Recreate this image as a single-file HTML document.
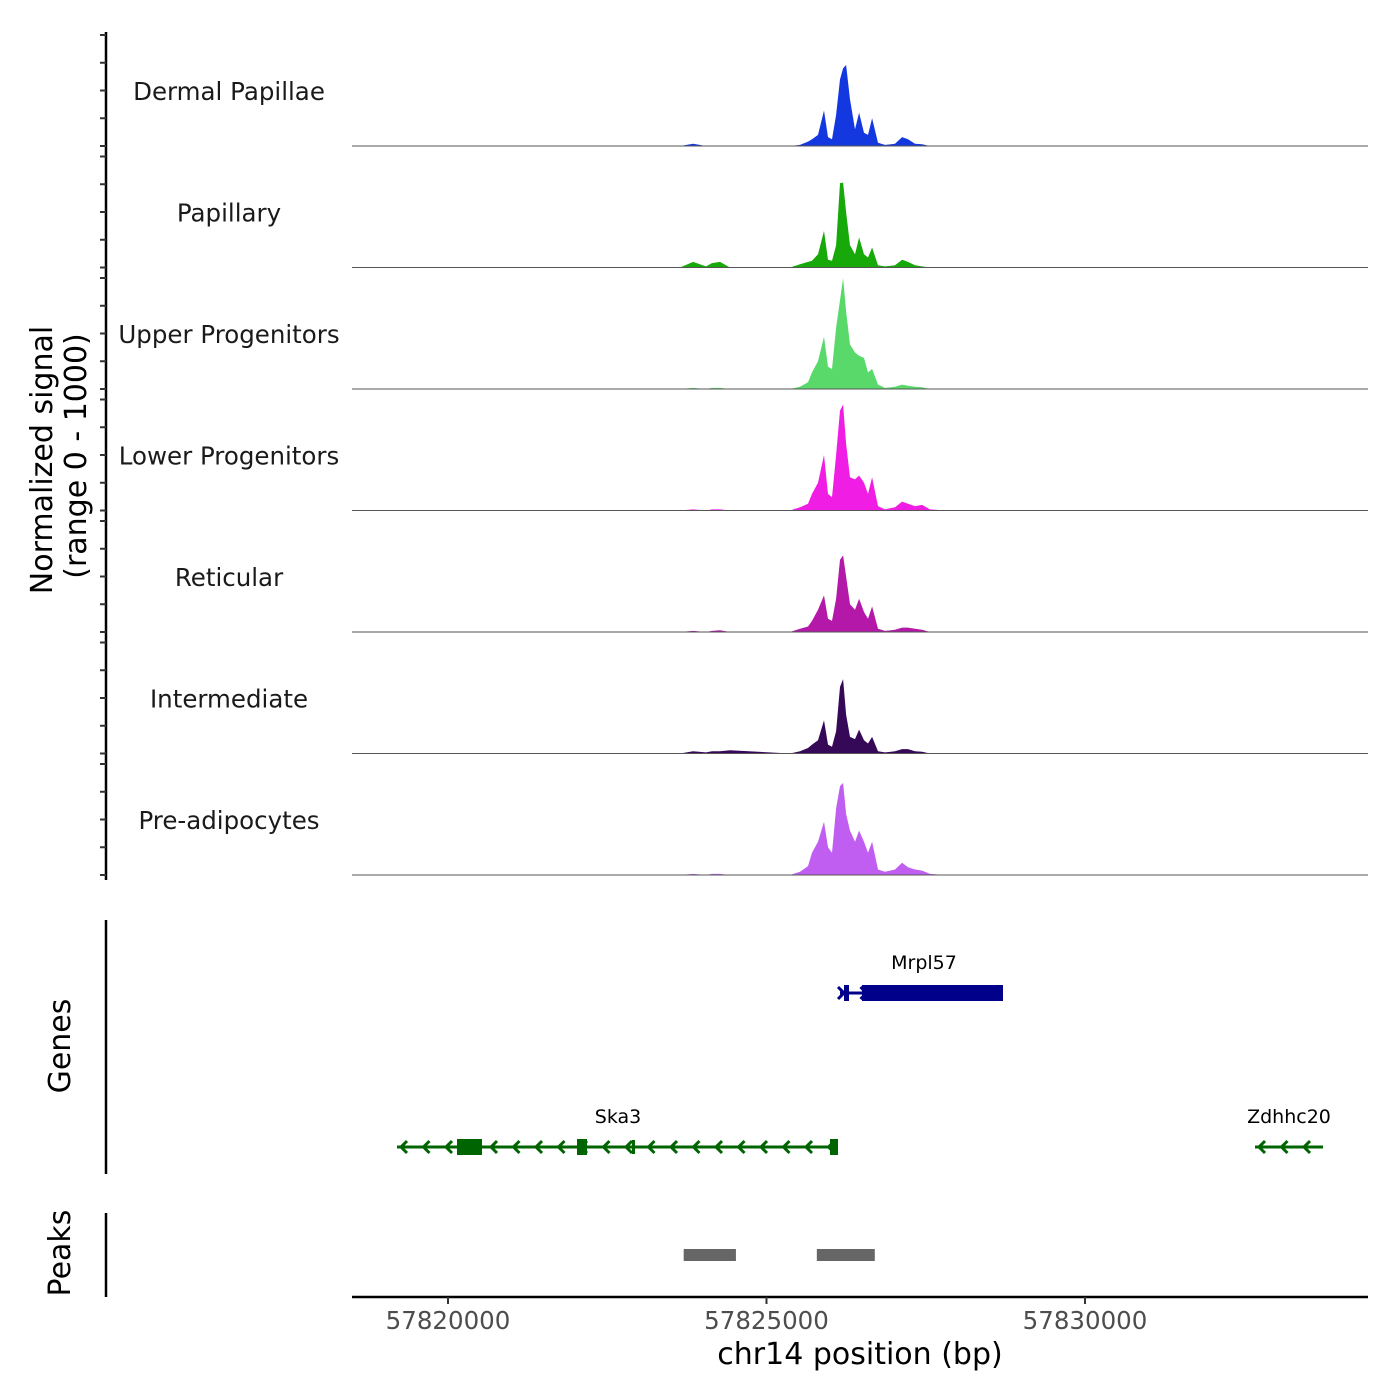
<!DOCTYPE html>
<html><head><meta charset="utf-8"><style>body{margin:0;background:#fff}svg{display:block;font-family:"DejaVu Sans","Liberation Sans",sans-serif}</style></head>
<body>
<svg id="c" width="1400" height="1400" viewBox="0 0 1400 1400"></svg>
<script>
const trackNames=["Dermal Papillae","Papillary","Upper Progenitors","Lower Progenitors","Reticular","Intermediate","Pre-adipocytes"];
const trackColors=["#1438e0","#17a80a","#58d96a","#f01ee4","#b318a8","#360858","#c05ef2"];
const positions=[57818493,57823642,57823847,57824051,57824145,57824270,57824427,57825369,57825526,57825652,57825715,57825809,57825903,57825966,57826029,57826092,57826154,57826202,57826249,57826311,57826390,57826453,57826531,57826594,57826657,57826751,57826861,57827018,57827128,57827222,57827332,57827442,57827567,57827803,57834444];
const sigDermal=[0,0,20,0,0,0,0,0,10,40,60,100,320,80,60,280,600,700,730,420,150,300,120,100,250,30,10,20,80,60,20,15,0,0,0];
const sigPapillary=[0,0,50,10,40,50,0,0,30,50,60,120,330,70,60,200,760,765,500,200,120,270,120,90,180,20,10,20,70,50,20,10,0,0,0];
const sigUpper=[0,0,10,0,10,10,0,0,20,60,150,250,470,200,180,550,800,1000,700,400,330,300,280,150,180,40,10,20,40,30,20,15,0,0,0];
const sigLower=[0,0,10,0,10,10,0,0,30,60,150,250,500,150,120,500,900,955,600,300,280,315,250,150,300,40,10,30,80,60,40,50,10,0,0];
const sigReticular=[0,0,10,0,10,15,0,0,30,50,100,200,330,120,100,300,650,690,500,250,200,300,180,120,230,30,10,20,40,40,30,20,0,0,0];
const sigIntermediate=[0,0,20,10,20,20,30,0,20,50,80,120,300,80,60,200,600,670,350,150,130,215,120,90,150,20,10,20,40,40,20,15,0,0,0];
const sigPre=[0,0,10,0,10,10,0,0,30,80,200,300,480,250,200,600,800,830,550,400,300,400,300,200,300,50,30,50,110,70,50,40,10,0,0];
const signals=[sigDermal,sigPapillary,sigUpper,sigLower,sigReticular,sigIntermediate,sigPre];
const xTicks=[57820000,57825000,57830000];
const peakStarts=[57823700,57825790];
const peakEnds=[57824520,57826700];

const svg=document.getElementById('c');
const NS='http://www.w3.org/2000/svg';
function mk(t,a,p){const e=document.createElementNS(NS,t);for(const k in a)e.setAttribute(k,a[k]);(p||svg).appendChild(e);return e;}
const X=bp=>448+(bp-57820000)*318.5/5000;
const trackH=121.5, firstBottom=146;
const Y=(i,v)=>firstBottom+i*trackH - v/1000*111;
const x0=352,x1=1368;

let la=mk('line',{x1:106,y1:32,x2:106,y2:880,stroke:'#000','stroke-width':2.5});

for(let i=0;i<7;i++){for(let k=0;k<5;k++){const y=Y(i,k*250);const t=mk('line',{x1:100,y1:y,x2:106,y2:y,stroke:'#333','stroke-width':2});}}
let yt=mk('text',{x:0,y:0,'font-size':30,'text-anchor':'middle',transform:'translate(52,460) rotate(-90)'});yt.textContent='Normalized signal';

let yt2=mk('text',{x:0,y:0,'font-size':30,'text-anchor':'middle',transform:'translate(86,456) rotate(-90)'});yt2.textContent='(range 0 - 1000)';


for(let i=0;i<7;i++){
  const g=mk('g',{});
  let d='M'+X(positions[0])+','+Y(i,0);
  positions.forEach((p,j)=>{d+=' L'+X(p).toFixed(1)+','+Y(i,signals[i][j]).toFixed(1);});
  d+=' L'+X(positions[positions.length-1])+','+Y(i,0)+' Z';
  const a=mk('path',{d:d,fill:trackColors[i]},g);
  const b=mk('line',{x1:x0,x2:x1,y1:Y(i,0),y2:Y(i,0),stroke:'#555','stroke-width':1},g);
  const l=mk('text',{x:229,y:Y(i,0)-46,'font-size':24.5,'text-anchor':'middle',fill:'#1a1a1a'},g);l.textContent=trackNames[i];
  
}

let ga=mk('line',{x1:106,y1:920,x2:106,y2:1174,stroke:'#000','stroke-width':2.5});
let gt=mk('text',{x:0,y:0,'font-size':30,'text-anchor':'middle',transform:'translate(70,1046) rotate(-90)'});gt.textContent='Genes';
function gene(name,y,s,e,col,exons,lx,arrowDir){
  const g=mk('g',{});
  mk('line',{x1:s,x2:e,y1:y,y2:y,stroke:col,'stroke-width':3},g);
  for(let x=s+4;x<e-4;x+=22.5){const d=arrowDir<0?`M${x+6},${y-6} L${x},${y} L${x+6},${y+6}`:`M${x-6},${y-6} L${x},${y} L${x-6},${y+6}`;mk('path',{d:d,stroke:col,'stroke-width':3,fill:'none'},g);}
  exons.forEach(ex=>mk('rect',{x:ex[0],y:y-ex[2]/2,width:ex[1]-ex[0],height:ex[2],fill:col},g));
  const t=mk('text',{x:lx,y:y-24,'font-size':19,'text-anchor':'middle',fill:'#000'},g);t.textContent=name;
}
gene('Mrpl57',993,840,1003,'#00008b',[[844,849,16],[862,1003,16]],924,1);
gene('Ska3',1147,397,838,'#006400',[[457,482,16],[577,587,16],[632,635,14],[830,838,16]],618,-1);
gene('Zdhhc20',1147,1255,1323,'#006400',[],1289,-1);

let pa=mk('line',{x1:106,y1:1213,x2:106,y2:1297,stroke:'#000','stroke-width':2.5});
let pt=mk('text',{x:0,y:0,'font-size':30,'text-anchor':'middle',transform:'translate(70,1253) rotate(-90)'});pt.textContent='Peaks';
peakStarts.forEach((s,i)=>{const r=mk('rect',{x:X(s),y:1249,width:X(peakEnds[i])-X(s),height:12,fill:'#666'});});

let xa=mk('line',{x1:x0,x2:x1,y1:1297,y2:1297,stroke:'#000','stroke-width':2.5});
xTicks.forEach(v=>{const t=mk('line',{x1:X(v),x2:X(v),y1:1297,y2:1304,stroke:'#333','stroke-width':2});
const l=mk('text',{x:X(v),y:1329,'font-size':24.5,'text-anchor':'middle',fill:'#4d4d4d'});l.textContent=v;});
let xt=mk('text',{x:860,y:1364,'font-size':30,'text-anchor':'middle',fill:'#000'});xt.textContent='chr14 position (bp)';
</script>
</body></html>
